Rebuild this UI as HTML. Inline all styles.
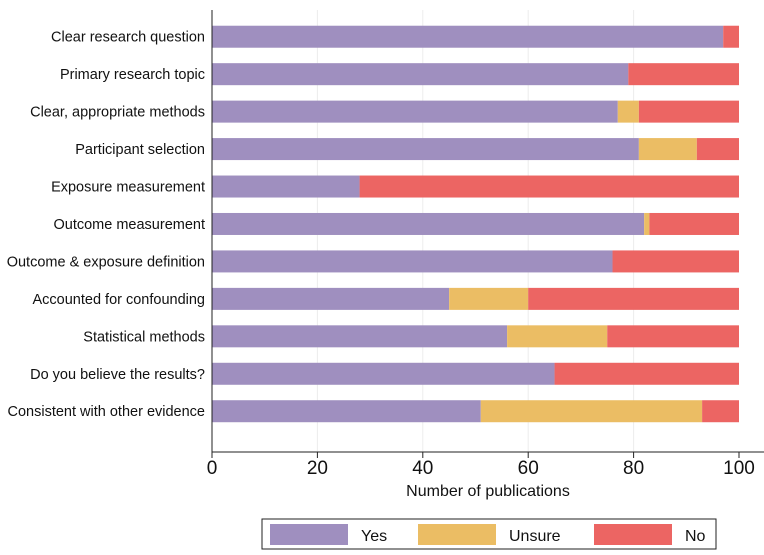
<!DOCTYPE html>
<html><head><meta charset="utf-8"><style>
body{margin:0;background:#fff;}
svg text{font-family:"Liberation Sans",Arial,sans-serif;fill:#111;}
</style></head><body>
<svg width="764" height="550">
<g id="grid"></g>
<g id="bars"></g>
<g id="axes"></g>
<text x="488" y="496" font-size="16" text-anchor="middle">Number of publications</text>
<g>
<rect x="262" y="519" width="454" height="30" fill="#fff" stroke="#222" stroke-width="1"/>
<rect x="270" y="524" width="78" height="21" fill="#9f8fbf"/>
<text x="361" y="541" font-size="16">Yes</text>
<rect x="418" y="524" width="78" height="21" fill="#ebbd64"/>
<text x="509" y="541" font-size="16">Unsure</text>
<rect x="594" y="524" width="78" height="21" fill="#ec6563"/>
<text x="685" y="541" font-size="16">No</text>
</g>
</svg>
<script>
const categories=["Clear research question","Primary research topic","Clear, appropriate methods","Participant selection","Exposure measurement","Outcome measurement","Outcome & exposure definition","Accounted for confounding","Statistical methods","Do you believe the results?","Consistent with other evidence"];
const yesVals=[97,79,77,81,28,82,76,45,56,65,51];
const unsureVals=[0,0,4,11,0,1,0,15,19,0,42];
const noVals=[3,21,19,8,72,17,24,40,25,35,7];
const ticks=[0,20,40,60,80,100];
const colors=["#9f8fbf","#ebbd64","#ec6563"];
const names=["yes","unsure","no"];
const NS="http://www.w3.org/2000/svg";
const x0=212,x1=739,yTop=18,rowH=37.45,barH=22,axisY=452;
const xs=v=>x0+(x1-x0)*v/100;
const yc=i=>yTop+rowH*(i+0.5);
function mk(t,a,p){const e=document.createElementNS(NS,t);for(const k in a)e.setAttribute(k,a[k]);p.appendChild(e);return e;}
const grid=document.getElementById('grid'),bars=document.getElementById('bars'),axes=document.getElementById('axes');
ticks.forEach(t=>{
 if(t>0&&t<100){const g=mk('line',{x1:xs(t),x2:xs(t),y1:10,y2:axisY,stroke:'#ececec','stroke-width':1},grid);
 
 }
 const tk=mk('line',{x1:xs(t),x2:xs(t),y1:axisY,y2:axisY+6,stroke:'#222'},axes);
 
 
 const tl=mk('text',{x:xs(t),y:axisY+22,'font-size':19,'text-anchor':'middle'},axes);tl.textContent=t;
 
 
});
categories.forEach((c,i)=>{
 const vals=[yesVals[i],unsureVals[i],noVals[i]];let s=0;
 vals.forEach((v,j)=>{if(v>0){const r=mk('rect',{x:xs(s),y:yc(i)-barH/2,width:xs(s+v)-xs(s),height:barH,fill:colors[j]},bars);
 
 }s+=v;});
 const l=mk('text',{x:205,y:yc(i)+5,'font-size':14.5,'text-anchor':'end'},axes);l.textContent=c;
 
 
});
const ya=mk('line',{x1:x0,x2:x0,y1:10,y2:axisY,stroke:'#222'},axes);


const xa=mk('line',{x1:x0,x2:764,y1:axisY,y2:axisY,stroke:'#222'},axes);


</script>
</body></html>
